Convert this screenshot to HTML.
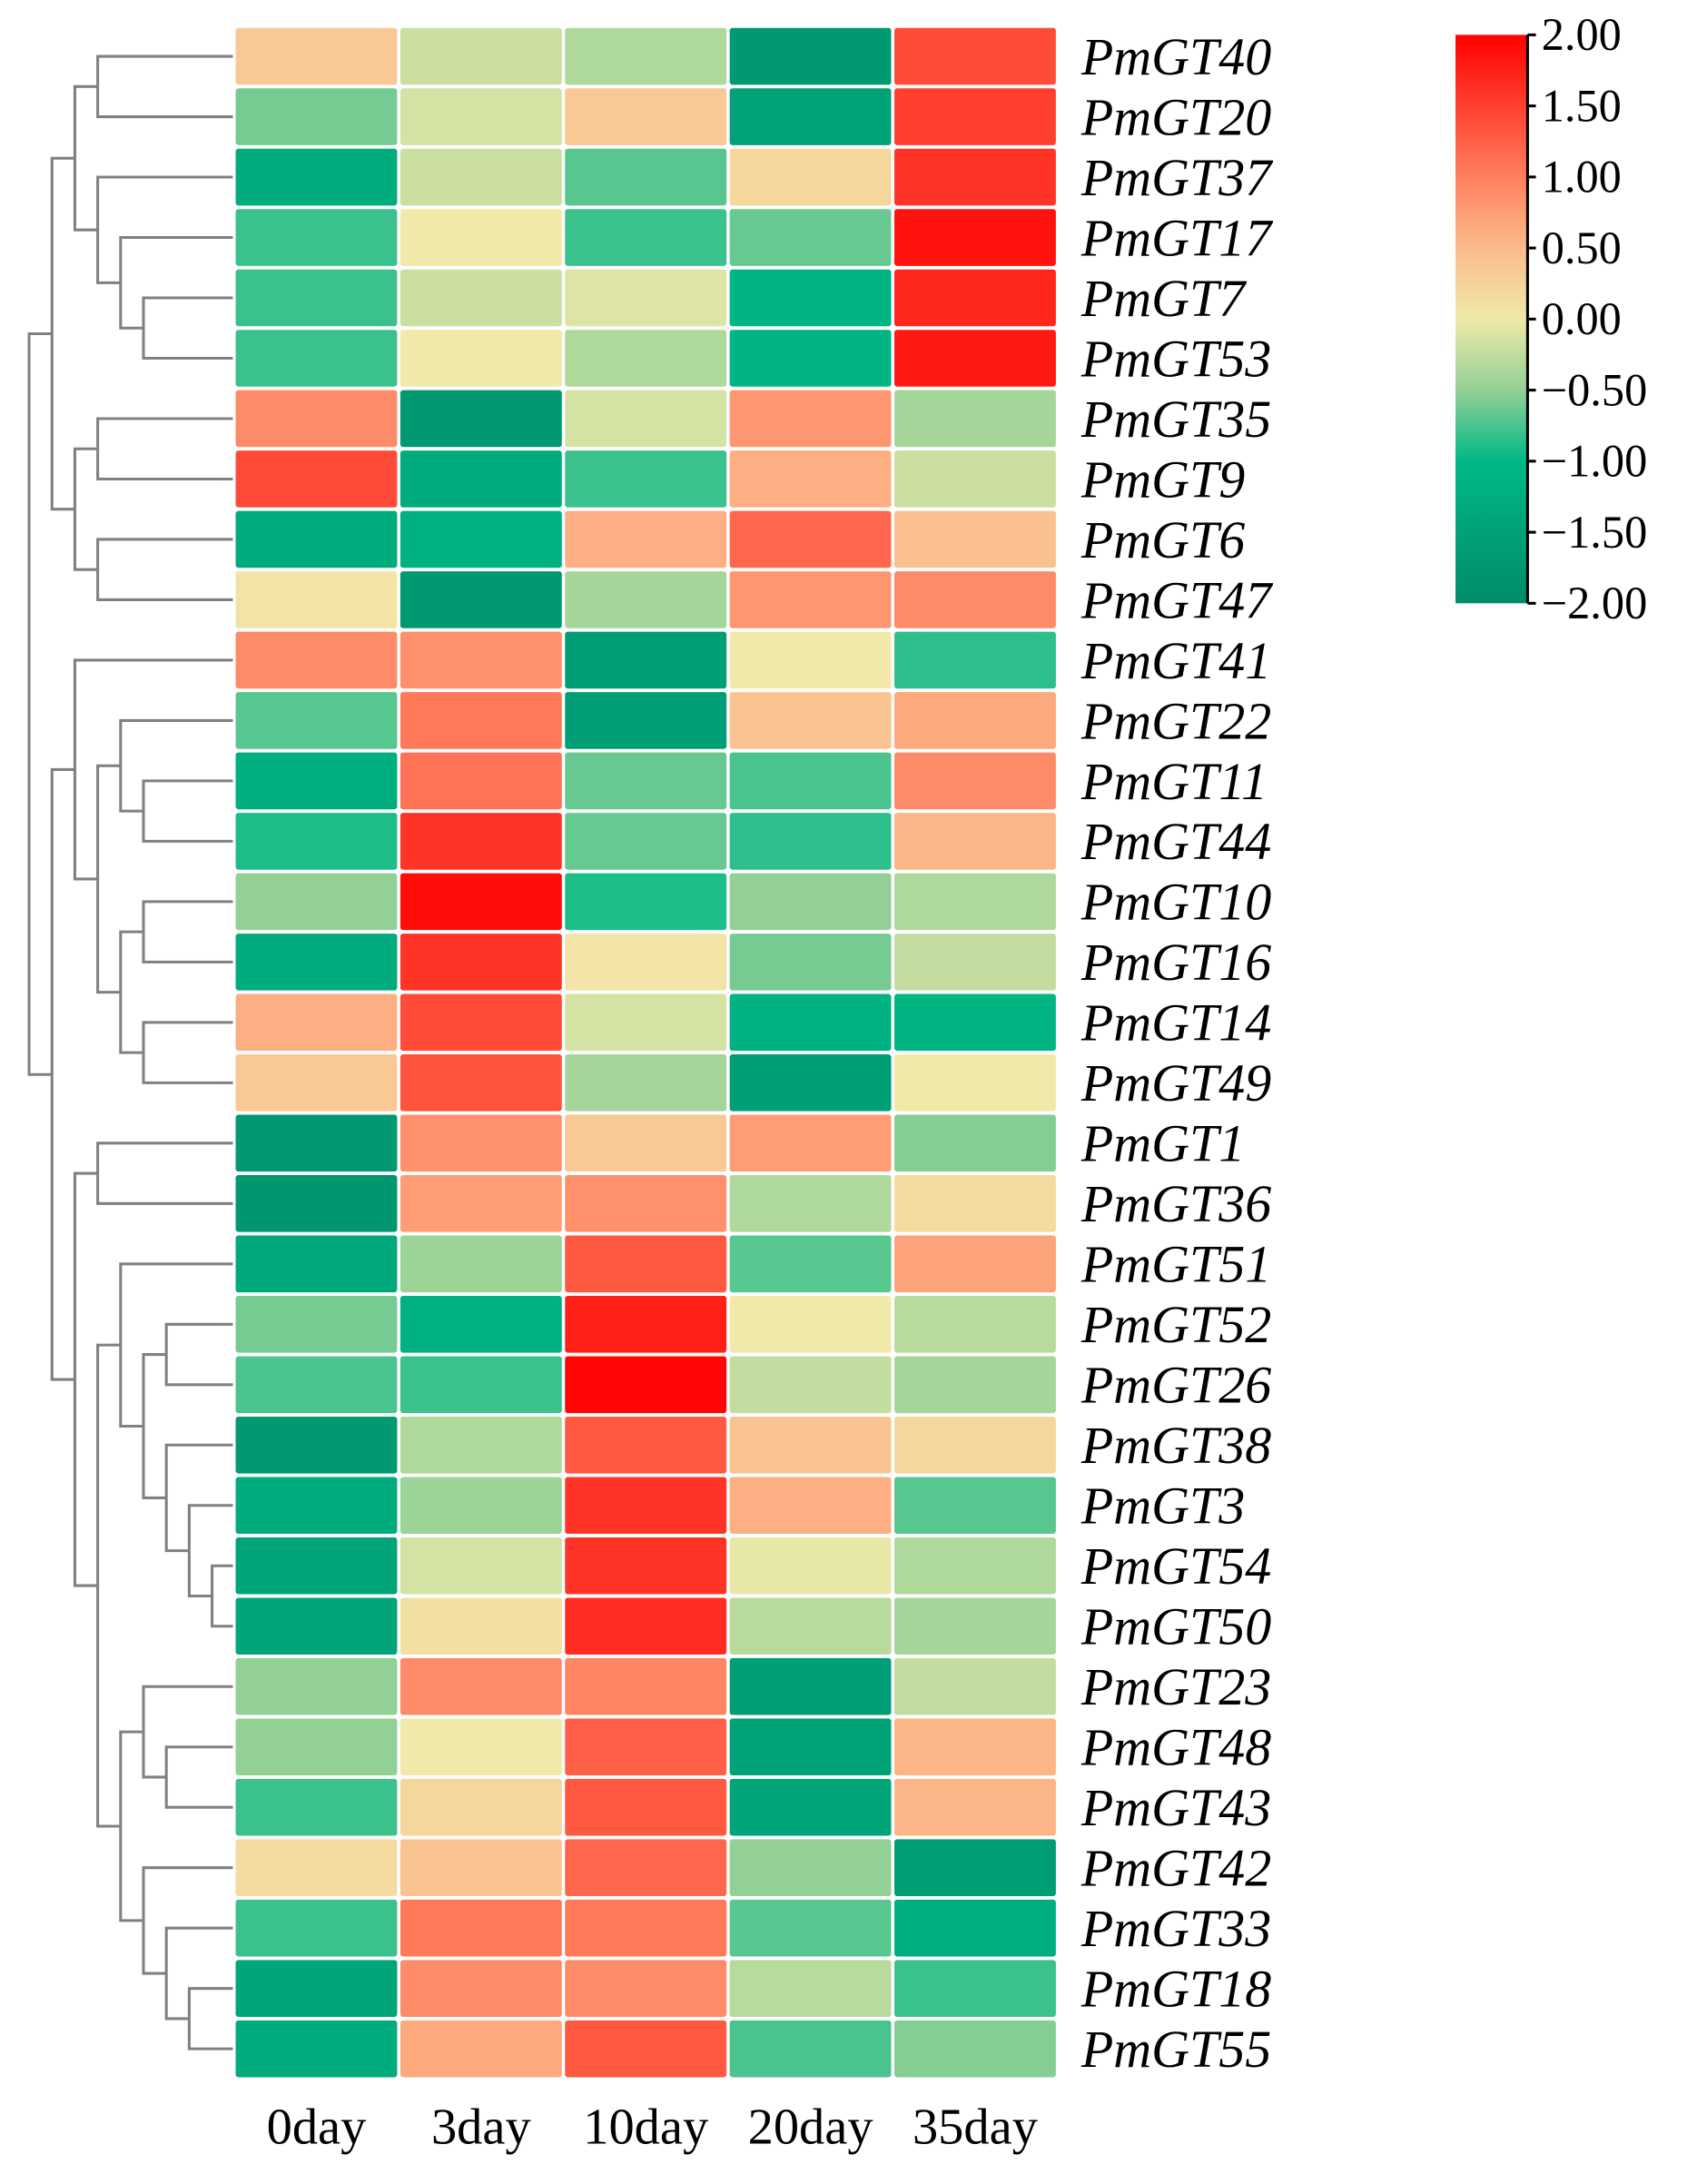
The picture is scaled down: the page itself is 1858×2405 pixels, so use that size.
<!DOCTYPE html>
<html><head><meta charset="utf-8"><style>
html,body{margin:0;padding:0;background:#fff;}
svg{display:block;}
</style></head><body>
<svg id="chart" xmlns="http://www.w3.org/2000/svg" width="1858" height="2405" viewBox="0 0 1217 1575">
<defs>
<linearGradient id="cbg" x1="0" y1="1" x2="0" y2="0">
<stop offset="0" stop-color="#008c68"/>
<stop offset="0.25" stop-color="#00b886"/>
<stop offset="0.375" stop-color="#93d095"/>
<stop offset="0.5" stop-color="#f0e9a9"/>
<stop offset="0.625" stop-color="#fcbb8c"/>
<stop offset="0.75" stop-color="#ff7f5e"/>
<stop offset="1" stop-color="#ff0000"/>
</linearGradient>
</defs>
<g id="dendro"></g>
<g id="cells"></g>
<g id="rowlabels"></g>
<g id="collabels"></g>
<g id="cbar">
<rect x="1050" y="25" width="52" height="410" fill="url(#cbg)"/>
<line x1="1102" y1="25" x2="1102" y2="435" stroke="#000" stroke-width="2"/>
</g>
</svg>
<script>
const genes = ["PmGT40","PmGT20","PmGT37","PmGT17","PmGT7","PmGT53","PmGT35","PmGT9","PmGT6","PmGT47","PmGT41","PmGT22","PmGT11","PmGT44","PmGT10","PmGT16","PmGT14","PmGT49","PmGT1","PmGT36","PmGT51","PmGT52","PmGT26","PmGT38","PmGT3","PmGT54","PmGT50","PmGT23","PmGT48","PmGT43","PmGT42","PmGT33","PmGT18","PmGT55"];
const days = ["0day","3day","10day","20day","35day"];
const values = [
[0.35,-0.2,-0.35,-1.7,1.4],
[-0.6,-0.15,0.35,-1.5,1.5],
[-1.3,-0.2,-0.7,0.2,1.6],
[-0.8,0.0,-0.8,-0.65,1.85],
[-0.8,-0.2,-0.1,-1.1,1.7],
[-0.8,0.0,-0.35,-1.1,1.8],
[0.9,-1.7,-0.15,0.8,-0.4],
[1.4,-1.3,-0.8,0.6,-0.2],
[-1.3,-1.15,0.6,1.2,0.45],
[0.05,-1.7,-0.4,0.8,0.9],
[0.9,0.85,-1.6,0.0,-0.85],
[-0.7,1.05,-1.6,0.4,0.65],
[-1.2,1.1,-0.65,-0.75,0.9],
[-0.9,1.6,-0.65,-0.85,0.55],
[-0.5,1.9,-0.9,-0.5,-0.35],
[-1.3,1.6,0.05,-0.6,-0.25],
[0.6,1.4,-0.15,-1.15,-1.1],
[0.35,1.35,-0.4,-1.6,0.0],
[-1.7,0.85,0.35,0.75,-0.55],
[-1.75,0.75,0.85,-0.35,0.15],
[-1.35,-0.45,1.3,-0.7,0.7],
[-0.6,-1.15,1.75,0.0,-0.3],
[-0.75,-0.8,1.95,-0.25,-0.4],
[-1.7,-0.35,1.3,0.4,0.2],
[-1.3,-0.45,1.6,0.6,-0.7],
[-1.45,-0.15,1.6,-0.05,-0.35],
[-1.4,0.1,1.65,-0.3,-0.4],
[-0.5,0.9,0.95,-1.6,-0.25],
[-0.5,0.0,1.25,-1.5,0.55],
[-0.8,0.2,1.3,-1.45,0.55],
[0.15,0.4,1.2,-0.5,-1.6],
[-0.8,1.05,1.05,-0.7,-1.2],
[-1.4,0.9,0.9,-0.3,-0.8],
[-1.3,0.65,1.3,-0.75,-0.55]
];
const tickValues = [2,1.5,1,0.5,0,-0.5,-1,-1.5,-2];
// dendrogram: [depth, left, right] ; leaves are row indices
const tree = [0,
  [1,
    [2, [3,0,1], [3,2,[4,3,[5,4,5]]]],
    [2, [3,6,7], [3,8,9]]
  ],
  [1,
    [2, 10, [3, [4,11,[5,12,13]], [4,[5,14,15],[5,16,17]]]],
    [2, [3,18,19],
      [3,
        [4, 20, [5, [6,21,22], [6,23,[7,24,[8,25,26]]]]],
        [4, [5,27,[6,28,29]], [5,30,[6,31,[7,32,33]]]]
      ]
    ]
  ]
];
const NS="http://www.w3.org/2000/svg";
const x0=170, colW=118.8, y0=20, rowH=43.55, cellW=116.5, cellH=41;
const vmin=-2, vmax=2, cbTop=25, cbBot=435;
function xCol(j){return x0+j*colW;}
function yRow(i){return y0+i*rowH;}
function yCb(v){return cbTop+(vmax-v)/(vmax-vmin)*(cbBot-cbTop);}
const stops=[[-2,[0,140,104]],[-1,[0,184,134]],[-0.5,[147,208,149]],[0,[240,233,169]],[0.5,[252,187,140]],[1,[255,127,94]],[2,[255,0,0]]];
function color(v){
  v=Math.max(vmin,Math.min(vmax,v));
  for(let k=0;k<stops.length-1;k++){
    const [a,ca]=stops[k],[b,cb]=stops[k+1];
    if(v<=b){const t=(v-a)/(b-a);
      return "rgb("+ca.map((c,i)=>Math.round(c+(cb[i]-c)*t)).join(",")+")";}
  }
  return "rgb(255,0,0)";
}
function mk(tag,attrs,parent){const e=document.createElementNS(NS,tag);for(const k in attrs)e.setAttribute(k,attrs[k]);parent.appendChild(e);return e;}
const cells=document.getElementById("cells");
values.forEach((row,i)=>row.forEach((v,j)=>{
  const r=mk("rect",{x:xCol(j),y:yRow(i),width:cellW,height:cellH,rx:2,fill:color(v)},cells);
  
  
}));
const rl=document.getElementById("rowlabels");
genes.forEach((g,i)=>{
  const t=mk("text",{x:780,y:yRow(i)+cellH/2+13,"font-family":"Liberation Serif, serif","font-style":"italic","font-size":38,fill:"#000"},rl);
  t.textContent=g;
  
  
});
const cl=document.getElementById("collabels");
days.forEach((d,j)=>{
  const t=mk("text",{x:xCol(j)+cellW/2,y:1546,"text-anchor":"middle","font-family":"Liberation Serif, serif","font-size":37,fill:"#000"},cl);
  t.textContent=d;
  
  
});
const cb=document.getElementById("cbar");
tickValues.forEach(v=>{
  const y=yCb(v);
  const l=mk("line",{x1:1102,y1:y,x2:1108,y2:y,stroke:"#000","stroke-width":2},cb);
  
  
  const t=mk("text",{x:1112,y:y+11,"font-family":"Liberation Serif, serif","font-size":33,fill:"#000"},cb);
  t.textContent=(v<0?"\u2212":"")+Math.abs(v).toFixed(2);
  
  
});
const dg=document.getElementById("dendro");
const leafX=168;
function dx(d){return 21+16.5*d;}
function draw(n){
  if(typeof n==="number") return {x:leafX,y:yRow(n)+cellH/2};
  const a=draw(n[1]), b=draw(n[2]); const x=dx(n[0]);
  const p=mk("path",{d:`M${a.x},${a.y}H${x}V${b.y}H${b.x}`,fill:"none",stroke:"#808080","stroke-width":2},dg);
  
  
  return {x:x,y:(a.y+b.y)/2};
}
draw(tree);
</script>
</body></html>
